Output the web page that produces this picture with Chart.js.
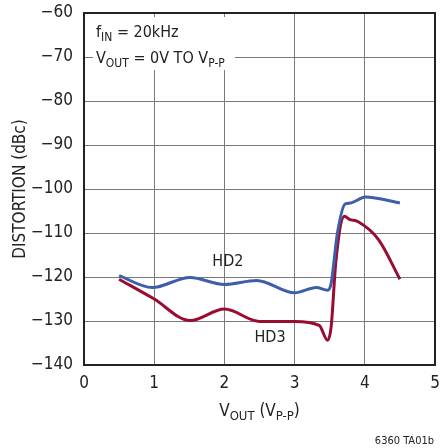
<!DOCTYPE html>
<html>
<head>
<meta charset="utf-8">
<script src="https://cdn.jsdelivr.net/npm/chart.js@4"></script>
<style>
  html, body { margin: 0; padding: 0; background: #fff; }
  #wrap { width: 440px; height: 448px; }
</style>
</head>
<body>
<div id="wrap"><canvas id="chart" width="440" height="448"></canvas></div>
<script>
const FONT = '"Liberation Sans Narrow", "DejaVu Sans Condensed", "Liberation Sans", sans-serif'

// values
const hd2X = [0.5, 0.97, 1.51, 2.0, 2.46, 3.0, 3.31, 3.47, 3.52, 3.61, 3.72, 3.79, 4.01, 4.5]
const hd2Y = [-119.7, -122.4, -120.1, -121.7, -120.8, -123.6, -122.4, -123.0, -121.5, -110.0, -103.4, -103.2, -101.8, -103.2]
const hd3X = [0.5, 0.99, 1.51, 2.0, 2.5, 3.0, 3.35, 3.47, 3.52, 3.59, 3.71, 3.78, 3.9, 4.2, 4.5]
const hd3Y = [-120.5, -124.9, -129.9, -127.3, -130.1, -130.1, -131.0, -134.4, -131.4, -116.1, -106.2, -106.9, -107.4, -111.6, -120.5]
const xTicks = [0, 1, 2, 3, 4, 5]
const yTicks = [-140, -130, -120, -110, -100, -90, -80, -70, -60]

function pts(xs, ys) {
  return xs.map((x, i) => ({x: x, y: ys[i]}))
}

// draws text made of [string, isSubscript] pieces
function drawRich(ctx, parts, x, y, size, align) {
  const big = size + 'px ' + FONT
  const small = Math.round(size * 0.75) + 'px ' + FONT
  let total = 0
  parts.forEach(([t, sub]) => { ctx.font = sub ? small : big; total += ctx.measureText(t).width })
  let cx = align === 'center' ? x - total / 2 : (align === 'right' ? x - total : x)
  ctx.textAlign = 'left'
  ctx.textBaseline = 'alphabetic'
  parts.forEach(([t, sub]) => {
    ctx.font = sub ? small : big
    ctx.fillText(t, cx, sub ? y + size * 0.22 : y)
    cx += ctx.measureText(t).width
  })
}

const labels = {
  id: 'labels',
  afterDraw(chart) {
    const ctx = chart.ctx
    const xs = chart.scales.x, ys = chart.scales.y
    const a = chart.chartArea
    ctx.save()
    // frame round the plot
    ctx.strokeStyle = '#222'
    ctx.lineWidth = 2
    ctx.strokeRect(a.left, a.top, a.right - a.left, a.bottom - a.top)
    // box behind the annotation
    ctx.fillStyle = '#fff'
    ctx.fillRect(93, 17, 142, 53)
    ctx.fillStyle = '#222'
    drawRich(ctx, [['f', false], ['IN', true], [' = 20kHz', false]], 96, 37, 16, 'left')
    drawRich(ctx, [['V', false], ['OUT', true], [' = 0V TO V', false], ['P-P', true]], 96, 63, 16, 'left')
    drawRich(ctx, [['HD2', false]], xs.getPixelForValue(2.05), ys.getPixelForValue(-117.5), 16, 'center')
    drawRich(ctx, [['HD3', false]], xs.getPixelForValue(2.65), ys.getPixelForValue(-134.8), 16, 'center')
    // axis titles
    drawRich(ctx, [['V', false], ['OUT', true], [' (V', false], ['P-P', true], [')', false]], (xs.left + xs.right) / 2, 416, 17, 'center')
    ctx.save()
    ctx.translate(25, (ys.top + ys.bottom) / 2)
    ctx.rotate(-Math.PI / 2)
    drawRich(ctx, [['DISTORTION (dBc)', false]], 0, 0, 17, 'center')
    ctx.restore()
    ctx.font = '11px ' + FONT
    ctx.textAlign = 'right'
    ctx.fillText('6360 TA01b', 434, 444)
    ctx.restore()
  }
}

new Chart(document.getElementById('chart'), {
  type: 'line',
  data: {
    datasets: [
      {
        label: 'HD2',
        data: pts(hd2X, hd2Y),
        borderColor: '#3d5ea8',
        borderWidth: 3,
        pointRadius: 0,
        cubicInterpolationMode: 'monotone',
      },
      {
        label: 'HD3',
        data: pts(hd3X, hd3Y),
        borderColor: '#9a0c30',
        borderWidth: 3,
        pointRadius: 0,
        cubicInterpolationMode: 'monotone',
      }
    ]
  },
  options: {
    responsive: false,
    animation: false,
    events: [],
    layout: { padding: { left: 0, top: 13, right: 5, bottom: 0 } },
    plugins: {
      legend: { display: false },
      tooltip: { enabled: false },
    },
    scales: {
      x: {
        type: 'linear',
        min: 0,
        max: 5,
        afterBuildTicks: (s) => { s.ticks = xTicks.map(v => ({value: v})) },
        afterFit: (s) => { s.height = 83; s.paddingLeft = 0; s.paddingRight = 0 },
        grid: { color: '#7a7a7a', lineWidth: 1, drawTicks: false },
        border: { color: '#222', width: 2 },
        ticks: { color: '#222', padding: 8, font: { family: FONT, size: 17 } },
      },
      y: {
        min: -140,
        max: -60,
        afterBuildTicks: (s) => { s.ticks = yTicks.map(v => ({value: v})) },
        afterFit: (s) => { s.width = 84; s.paddingTop = 0; s.paddingBottom = 0 },
        grid: { color: '#7a7a7a', lineWidth: 1, drawTicks: false },
        border: { color: '#222', width: 2 },
        ticks: {
          color: '#222', padding: 11, font: { family: FONT, size: 17 },
          callback: (v) => v < 0 ? '\u2212' + Math.abs(v) : String(v)
        },
      }
    }
  },
  plugins: [labels]
})
</script>
</body>
</html>
